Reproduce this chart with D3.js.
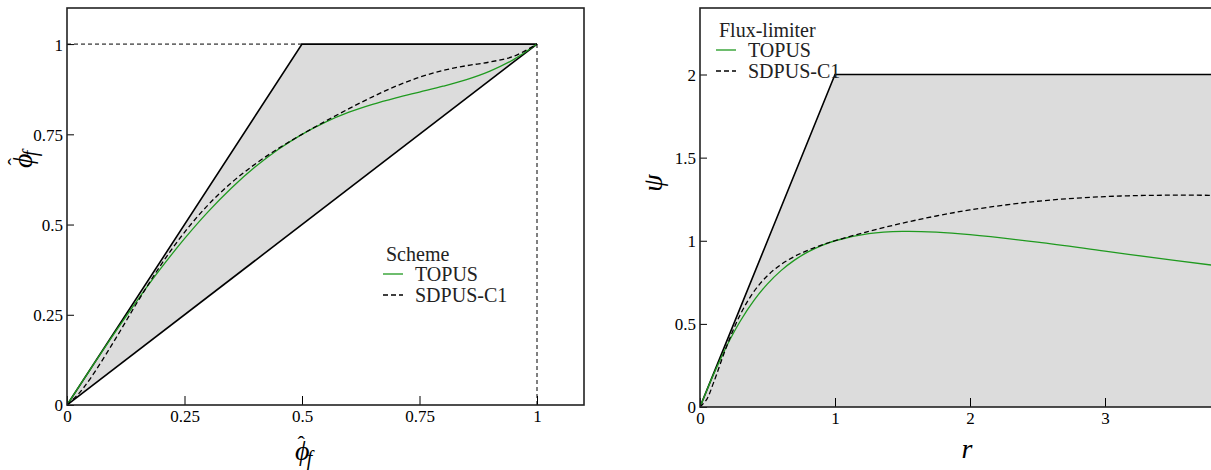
<!DOCTYPE html>
<html>
<head>
<meta charset="utf-8">
<script src="https://cdn.jsdelivr.net/npm/d3@7"></script>
</head>
<body style="margin:0">
<script>
// ---------------- data ----------------
// NVD diagram (left)
const nvdPhi    = [0, 0.025, 0.05, 0.1, 0.15, 0.2, 0.25, 0.3, 0.35, 0.4, 0.45, 0.5, 0.55, 0.6, 0.65, 0.7, 0.75, 0.8, 0.85, 0.9, 0.95, 1];
const nvdTopus  = [0, 0.0500, 0.0996, 0.1972, 0.2909, 0.3792, 0.4609, 0.5352, 0.6014, 0.6592, 0.7086, 0.75, 0.7839, 0.8112, 0.8331, 0.8512, 0.8672, 0.8832, 0.9016, 0.9252, 0.9569, 1];
const nvdSdpus  = [0, 0.0317, 0.0741, 0.1765, 0.2856, 0.3884, 0.4785, 0.5540, 0.6160, 0.6673, 0.7110, 0.75, 0.7864, 0.8212, 0.8539, 0.8835, 0.9082, 0.9270, 0.9401, 0.9505, 0.9659, 1];
const nvdUpper  = [[0, 0], [0.5, 1], [1, 1]];
const nvdLower  = [[0, 0], [1, 1]];
const nvdGuides = [[[0, 1], [0.5, 1]], [[1, 0], [1, 1]]];
const nvdTicks  = [0, 0.25, 0.5, 0.75, 1];

// TVD diagram (right)
const tvdR      = [0, 0.05, 0.1, 0.2, 0.3, 0.4, 0.5, 0.6, 0.7, 0.8, 0.9, 1, 1.25, 1.5, 1.75, 2, 2.5, 3, 3.5, 4, 4.5, 5];
const tvdTopus  = [0, 0.0993, 0.1953, 0.3704, 0.5189, 0.6414, 0.7407, 0.8203, 0.8834, 0.9328, 0.9710, 1, 1.0425, 1.056, 1.0518, 1.0370, 0.9913, 0.9375, 0.8834, 0.832, 0.7844, 0.7407];
const tvdSdpus  = [0, 0.0463, 0.1451, 0.3704, 0.5585, 0.6950, 0.7901, 0.8569, 0.9056, 0.9429, 0.9736, 1, 1.0567, 1.1059, 1.1489, 1.1852, 1.2376, 1.2656, 1.2742, 1.2698, 1.2554, 1.2346];
const tvdUpper  = [[0, 0], [1, 2], [5, 2]];
const tvdXTicks = [0, 1, 2, 3];
const tvdYTicks = [0, 0.5, 1, 1.5, 2];

const seriesNames = ['TOPUS', 'SDPUS-C1'];
const seriesColor = ['#1f9a1f', '#000'];
const seriesDash  = [null, '5,3'];

// ---------------- layout ----------------
const W = 1211, H = 470;
const svg = d3.select('body').append('svg')
    .attr('width', W)
    .attr('height', H)
    .style('display', 'block');

function panel(opts) {
    const x = d3.scaleLinear().domain(opts.xDomain).range([opts.left, opts.right]);
    const y = d3.scaleLinear().domain(opts.yDomain).range([opts.bottom, opts.top]);
    const g = svg.append('g');

    const clipId = 'clip' + opts.id;
    g.append('clipPath').attr('id', clipId)
        .append('rect')
        .attr('x', opts.left).attr('y', opts.top)
        .attr('width', opts.right - opts.left).attr('height', opts.bottom - opts.top);

    const body = g.append('g').attr('clip-path', 'url(#' + clipId + ')');
    const line = d3.line().x(d => x(d[0])).y(d => y(d[1]));

    // shaded region
    body.append('path')
        .attr('d', line(opts.region))
        .attr('fill', '#dcdcdc')
        .attr('stroke', 'none');

    // boundary lines
    opts.bounds.forEach(b => {
        body.append('path').attr('d', line(b))
            .attr('fill', 'none').attr('stroke', '#000').attr('stroke-width', 1.6);
    });
    (opts.guides || []).forEach(b => {
        body.append('path').attr('d', line(b))
            .attr('fill', 'none').attr('stroke', '#000').attr('stroke-width', 1)
            .attr('stroke-dasharray', '4,3');
    });

    // curves
    const curve = d3.line().x(d => x(d[0])).y(d => y(d[1])).curve(d3.curveCatmullRom);
    opts.series.forEach((s, i) => {
        body.append('path')
            .datum(d3.zip(opts.xs, s))
            .attr('d', curve)
            .attr('fill', 'none')
            .attr('stroke', seriesColor[i])
            .attr('stroke-width', 1.3)
            .attr('stroke-dasharray', seriesDash[i]);
    });

    // axes (ticks pointing inward)
    const xAxis = d3.axisBottom(x).tickValues(opts.xTicks).tickFormat(d => String(d))
        .tickSizeInner(-9).tickSizeOuter(0).tickPadding(5);
    const yAxis = d3.axisLeft(y).tickValues(opts.yTicks).tickFormat(d => String(d))
        .tickSizeInner(-7).tickSizeOuter(0).tickPadding(4);

    const gx = g.append('g').attr('transform', 'translate(0,' + opts.bottom + ')').call(xAxis);
    const gy = g.append('g').attr('transform', 'translate(' + opts.left + ',0)').call(yAxis);
    [gx, gy].forEach(a => {
        a.attr('font-family', null).attr('font-size', null);
        a.select('.domain').remove();
        a.selectAll('line').attr('stroke', '#000').attr('stroke-width', 1);
        a.selectAll('text').attr('fill', '#000').style('font-size', '17px');
    });
    gy.selectAll('text').attr('dy', '0.35em');

    // frame
    g.append('rect')
        .attr('x', opts.left).attr('y', opts.top)
        .attr('width', opts.right - opts.left).attr('height', opts.bottom - opts.top)
        .attr('fill', 'none').attr('stroke', '#222').attr('stroke-width', 1.6);

    // legend
    const lg = g.append('g').attr('transform', 'translate(' + opts.legend[0] + ',' + opts.legend[1] + ')');
    lg.append('text').attr('x', 3).attr('y', 0).style('font-size', '20px').attr('fill', '#222').text(opts.legendTitle);
    seriesNames.forEach((n, i) => {
        const yy = 20 + i * 21;
        lg.append('line').attr('x1', 0).attr('x2', 20).attr('y1', yy - 7).attr('y2', yy - 7)
            .attr('stroke', seriesColor[i]).attr('stroke-width', 1.3)
            .attr('stroke-dasharray', seriesDash[i]);
        lg.append('text').attr('x', 32).attr('y', yy).style('font-size', '20px').attr('fill', '#222').text(n);
    });

    return { x, y, g };
}

// ---------------- left: NVD ----------------
panel({
    id: 'L', left: 67, right: 584, top: 8, bottom: 405,
    xDomain: [0, 1.1], yDomain: [0, 1.1],
    region: nvdUpper.concat([[0, 0]]),
    bounds: [nvdUpper, nvdLower],
    guides: nvdGuides,
    xs: nvdPhi, series: [nvdTopus, nvdSdpus],
    xTicks: nvdTicks, yTicks: nvdTicks,
    legend: [383, 261], legendTitle: 'Scheme'
});

// ---------------- right: TVD ----------------
panel({
    id: 'R', left: 700, right: 1375, top: 8, bottom: 407,
    xDomain: [0, 5], yDomain: [0, 2.4],
    region: tvdUpper.concat([[5, 0], [0, 0]]),
    bounds: [tvdUpper],
    xs: tvdR, series: [tvdTopus, tvdSdpus],
    xTicks: tvdXTicks, yTicks: tvdYTicks,
    legend: [716, 37], legendTitle: 'Flux-limiter'
});

// ---------------- axis titles ----------------
// phi with a hat and subscript f, as one text
function phiHat(t) {
    t.attr('text-anchor', 'start').style('font-size', '28px');
    t.append('tspan').attr('font-style', 'italic').text('\u03D5');
    t.append('tspan').attr('dx', -12).attr('dy', -9).style('font-size', '22px').text('\u02C6');
    t.append('tspan').attr('dx', 2).attr('dy', 14).attr('font-style', 'italic')
        .style('font-size', '20px').text('f');
}
svg.append('text').attr('x', 295).attr('y', 460).call(phiHat);
svg.append('text').attr('transform', 'translate(32,168) rotate(-90)').call(phiHat);

svg.append('text').attr('x', 967).attr('y', 458).attr('text-anchor', 'middle')
    .style('font-size', '28px').attr('font-style', 'italic').text('r');
svg.append('text').attr('transform', 'translate(662,183) rotate(-90)').attr('text-anchor', 'middle')
    .style('font-size', '28px').attr('font-style', 'italic').text('\u03C8');

// serif face on every text, set directly on the element
svg.selectAll('text').style('font-family', '"Liberation Serif"');
</script>
</body>
</html>
